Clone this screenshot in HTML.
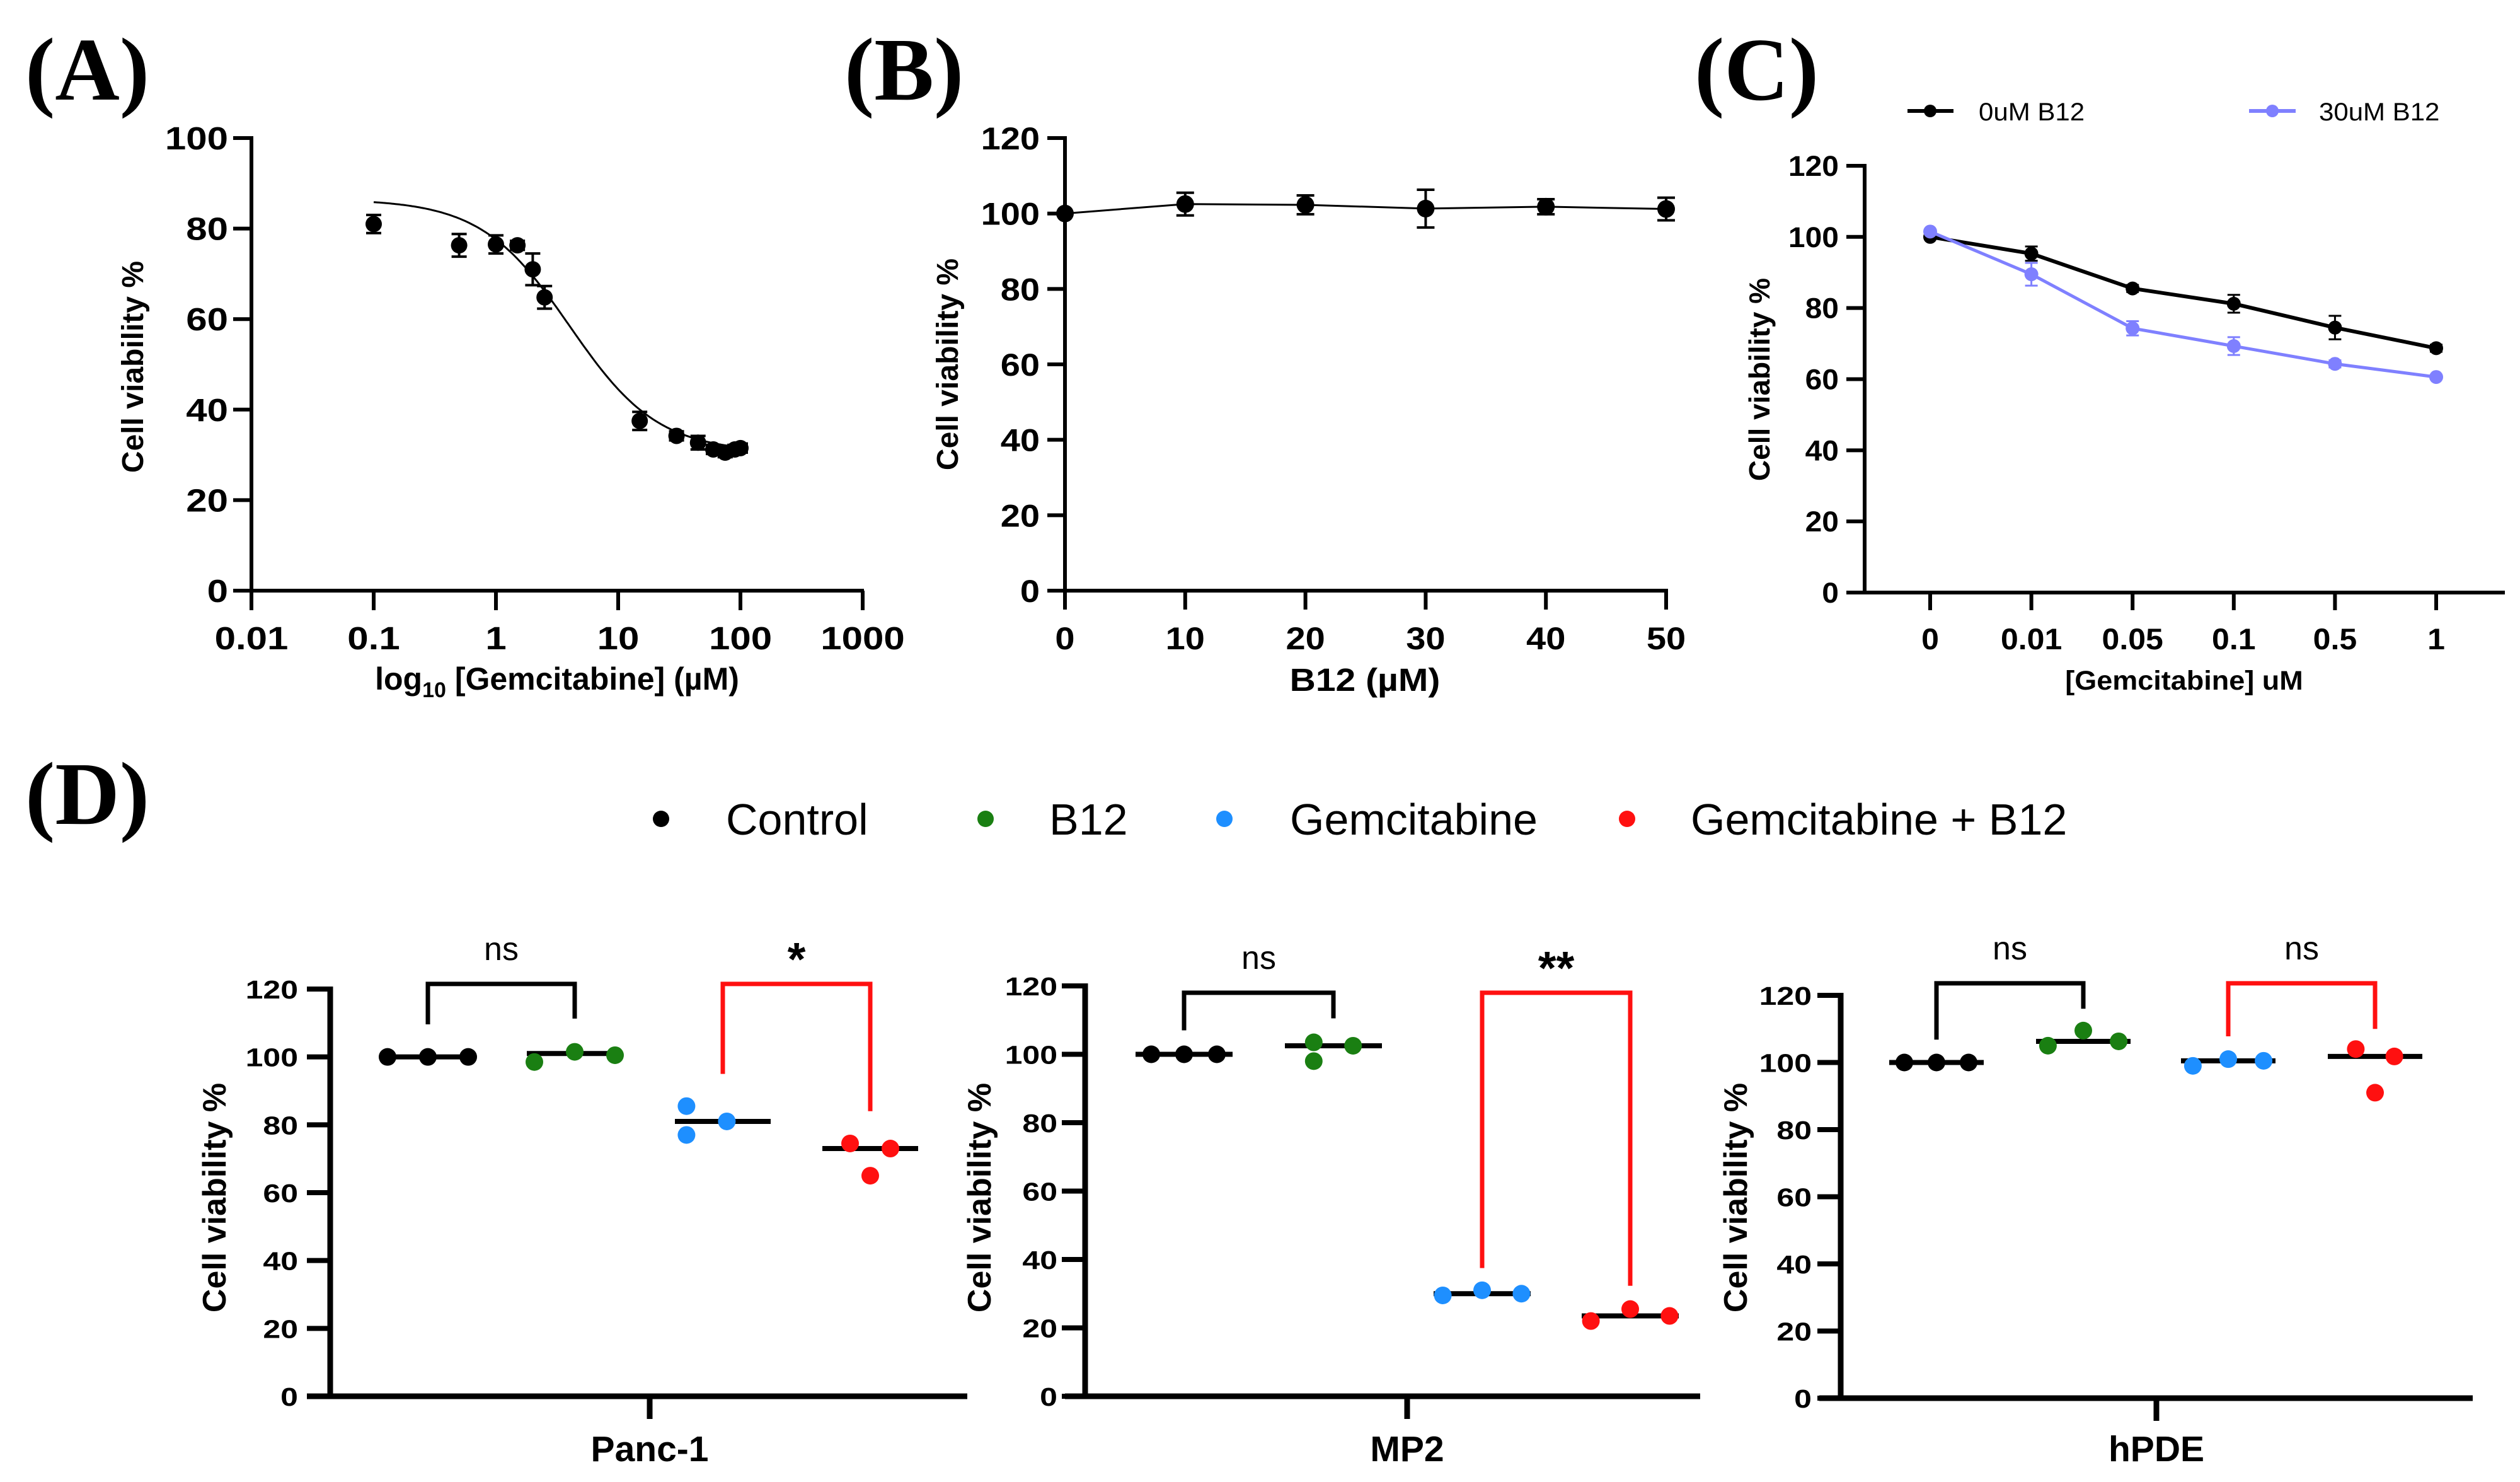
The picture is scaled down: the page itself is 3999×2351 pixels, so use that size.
<!DOCTYPE html>
<html><head><meta charset="utf-8"><style>
html,body{margin:0;padding:0;background:#fff;}
svg{display:block;font-family:"Liberation Sans",Arial,sans-serif;}
</style></head><body>
<svg id="fig" width="3999" height="2351" viewBox="0 0 3999 2351" xmlns="http://www.w3.org/2000/svg">
<rect width="3999" height="2351" fill="#fff"/>
</svg>
<script>
// ---------- DATA ----------
const aConc = [0.1, 0.5, 1, 1.5, 2, 2.5, 15, 30, 45, 60, 75, 90, 100];
const aVal  = [81, 76.3, 76.5, 76.3, 71, 64.8, 37.5, 34.2, 32.7, 31.2, 30.5, 31.2, 31.5];
const aErr  = [2, 2.5, 2, 1, 3.5, 2.5, 2, 1, 1.5, 1, 1, 1, 1];
const aFitTop = 86.5, aFitBottom = 30.5, aFitIC50 = 4, aFitHill = 1.2;
const aTicks = [0.01, 0.1, 1, 10, 100, 1000];
const aTickLabels = ["0.01", "0.1", "1", "10", "100", "1000"];
const aYTicks = [0, 20, 40, 60, 80, 100];

const bConc = [0, 10, 20, 30, 40, 50];
const bVal  = [100, 102.5, 102.3, 101.3, 101.8, 101.2];
const bErr  = [0, 3, 2.5, 5, 2, 3];
const bYTicks = [0, 20, 40, 60, 80, 100, 120];

const cCats = ["0", "0.01", "0.05", "0.1", "0.5", "1"];
const cBlack = [100, 95.3, 85.5, 81.2, 74.5, 68.7];
const cBlackErr = [0.5, 2, 1, 2.5, 3.3, 1];
const cBlue = [101.5, 89.5, 74.3, 69.3, 64.3, 60.6];
const cBlueErr = [0.5, 3.2, 2, 2.5, 1, 0.5];
const cYTicks = [0, 20, 40, 60, 80, 100, 120];

const dGroups = ["Control", "B12", "Gemcitabine", "Gemcitabine + B12"];
const dColors = ["#000000", "#1a7f12", "#1e8fff", "#ff1010"];
const dCells = ["Panc-1", "MP2", "hPDE"];
const dPanc = [[100, 100, 100], [98.5, 101.5, 100.5], [85.5, 77, 81], [74.5, 65, 73]];
const dMP2  = [[100, 100, 100], [103.5, 98, 102.5], [29.5, 31, 30], [22, 25.5, 23.5]];
const dHPDE = [[100, 100, 100], [105, 109.5, 106.3], [99, 101, 100.5], [104, 91, 101.8]];
const dMedPanc = [100, 101, 81, 73];
const dMedMP2  = [100, 102.5, 30, 23.5];
const dMedHPDE = [100, 106.3, 100.5, 101.8];
const dSig = [["ns", "*"], ["ns", "**"], ["ns", "ns"]];
const dBrTop = [[121.5, 121.5], [118, 118], [123.6, 123.6]];
const dBrLegs = [[[109.6, 111.3], [95, 84]], [[107, 110.5], [37.5, 32.3]], [[106.8, 116], [107.8, 110]]];
const dYTicks = [0, 20, 40, 60, 80, 100, 120];

// ---------- HELPERS ----------
const NS = "http://www.w3.org/2000/svg";
const svg = document.getElementById("fig");
function mk(tag, attrs, parent) {
  const e = document.createElementNS(NS, tag);
  for (const k in attrs) e.setAttribute(k, attrs[k]);
  (parent || svg).appendChild(e);
  return e;
}
function txt(x, y, s, fs, anchor, weight, sy, parent, fam) {
  const e = mk("text", {transform: "translate(" + x + "," + y + ") scale(1," + sy + ")", "font-size": fs, "text-anchor": anchor, "font-weight": weight, fill: "#000"}, parent);
  if (fam) e.setAttribute("font-family", fam);
  e.textContent = s;
  return e;
}
const SERIF = '"Liberation Serif","Times New Roman",serif';

// ---------- PANEL LETTERS ----------
const letters = [["(A)", 40, 158], ["(B)", 1340, 158], ["(C)", 2689, 158], ["(D)", 40, 1307]];
letters.forEach(function (L) {
  const t = txt(L[1], L[2], L[0], 142, "start", "bold", 1, svg, SERIF);
  
  
});

// ---------- PANEL A ----------
const gA = mk("g", {});


function xA(v) { return 399 + (Math.log10(v) + 2) * 194; }
function yA(v) { return 937 - v * 7.18; }
let e;
e = mk("line", {x1: 399, y1: yA(100) - 3, x2: 399, y2: 940, stroke: "#000", "stroke-width": 6}, gA);


e = mk("line", {x1: 370, y1: 937, x2: 1371, y2: 937, stroke: "#000", "stroke-width": 6}, gA);


aYTicks.forEach(function (v) {
  const t = mk("line", {x1: 370, y1: yA(v), x2: 399, y2: yA(v), stroke: "#000", "stroke-width": 6}, gA);
  
  
  const l = txt(362, yA(v) + 18, String(v), 60, "end", "bold", 0.85, gA);
  
  
});
aTicks.forEach(function (v, i) {
  const t = mk("line", {x1: xA(v), y1: 937, x2: xA(v), y2: 968, stroke: "#000", "stroke-width": 6}, gA);
  
  
  const l = txt(xA(v), 1030, aTickLabels[i], 60, "middle", "bold", 0.85, gA);
  
  
});
(function () {
  let d = "";
  for (let k = 0; k <= 200; k++) {
    const lx = -1 + k * 3 / 200;
    const c = Math.pow(10, lx);
    const v = aFitBottom + (aFitTop - aFitBottom) / (1 + Math.pow(c / aFitIC50, aFitHill));
    d += (k ? "L" : "M") + xA(c).toFixed(1) + "," + yA(v).toFixed(1);
  }
  const p = mk("path", {d: d, fill: "none", stroke: "#000", "stroke-width": 3}, gA);
  
  
})();
aConc.forEach(function (c, i) {
  const x = xA(c), y1 = yA(aVal[i] + aErr[i]), y2 = yA(aVal[i] - aErr[i]);
  const eb = mk("path", {d: "M" + x + "," + y1 + "V" + y2 + "M" + (x - 12) + "," + y1 + "h24M" + (x - 12) + "," + y2 + "h24", stroke: "#000", "stroke-width": 4, fill: "none"}, gA);
  
  
  const pt = mk("circle", {cx: x, cy: yA(aVal[i]), r: 13, fill: "#000"}, gA);
  
  
});
e = txt(210, 582, "Cell viability %", 48, "middle", "bold", 1, gA);
e.setAttribute("transform", "translate(227,582) rotate(-90)");


e = mk("text", {x: 884, y: 1094, "font-size": 50, "text-anchor": "middle", "font-weight": "bold"}, gA);
e.innerHTML = 'log<tspan font-size="34" dy="12">10</tspan><tspan dy="-12"> [Gemcitabine] (µM)</tspan>';



// ---------- PANEL B ----------
const gB = mk("g", {});


function xB(v) { return 1690 + v * 19.08; }
function yB(v) { return 937 - v * 5.983; }
e = mk("line", {x1: 1690, y1: yB(120) - 3, x2: 1690, y2: 940, stroke: "#000", "stroke-width": 6}, gB);


e = mk("line", {x1: 1662, y1: 937, x2: xB(50) + 3, y2: 937, stroke: "#000", "stroke-width": 6}, gB);


bYTicks.forEach(function (v) {
  const t = mk("line", {x1: 1662, y1: yB(v), x2: 1690, y2: yB(v), stroke: "#000", "stroke-width": 6}, gB);
  
  
  const l = txt(1650, yB(v) + 18, String(v), 56, "end", "bold", 0.9, gB);
  
  
});
bConc.forEach(function (v) {
  const t = mk("line", {x1: xB(v), y1: 937, x2: xB(v), y2: 967, stroke: "#000", "stroke-width": 6}, gB);
  
  
  const l = txt(xB(v), 1030, String(v), 56, "middle", "bold", 0.9, gB);
  
  
});
e = mk("polyline", {points: bConc.map(function (c, i) { return xB(c) + "," + yB(bVal[i]); }).join(" "), fill: "none", stroke: "#000", "stroke-width": 3}, gB);


bConc.forEach(function (c, i) {
  const x = xB(c), y1 = yB(bVal[i] + bErr[i]), y2 = yB(bVal[i] - bErr[i]);
  if (bErr[i] > 0) {
    const eb = mk("path", {d: "M" + x + "," + y1 + "V" + y2 + "M" + (x - 14) + "," + y1 + "h28M" + (x - 14) + "," + y2 + "h28", stroke: "#000", "stroke-width": 4, fill: "none"}, gB);
    
    
  }
  const pt = mk("circle", {cx: x, cy: yB(bVal[i]), r: 14, fill: "#000"}, gB);
  
  
});
e = txt(0, 0, "Cell viability %", 48, "middle", "bold", 1, gB);
e.setAttribute("transform", "translate(1520,578) rotate(-90)");


e = txt(2166, 1096, "B12 (µM)", 57, "middle", "bold", 0.9, gB);



// ---------- PANEL C ----------
const gC = mk("g", {});


function xC(i) { return 3063 + i * 160.6; }
function yC(v) { return 940 - v * 5.642; }
const blueC = "#7f80ff";
e = mk("line", {x1: 2959, y1: yC(120) - 3, x2: 2959, y2: 943, stroke: "#000", "stroke-width": 6}, gC);


e = mk("line", {x1: 2930, y1: 940, x2: 3975, y2: 940, stroke: "#000", "stroke-width": 6}, gC);


cYTicks.forEach(function (v) {
  const t = mk("line", {x1: 2930, y1: yC(v), x2: 2959, y2: yC(v), stroke: "#000", "stroke-width": 6}, gC);
  
  
  const l = txt(2918, yC(v) + 16, String(v), 48, "end", "bold", 0.95, gC);
  
  
});
cCats.forEach(function (c, i) {
  const t = mk("line", {x1: xC(i), y1: 940, x2: xC(i), y2: 968, stroke: "#000", "stroke-width": 6}, gC);
  
  
  const l = txt(xC(i), 1030, c, 50, "middle", "bold", 0.95, gC);
  
  
});
[[cBlack, cBlackErr, "#000", 6, "series-0um-b12"], [cBlue, cBlueErr, blueC, 5, "series-30um-b12"]].forEach(function (S) {
  const g = mk("g", {}, gC);
  
  
  const ln = mk("polyline", {points: S[0].map(function (v, i) { return xC(i) + "," + yC(v); }).join(" "), fill: "none", stroke: S[2], "stroke-width": S[3]}, g);
  
  
  S[0].forEach(function (v, i) {
    const x = xC(i), y1 = yC(v + S[1][i]), y2 = yC(v - S[1][i]);
    const eb = mk("path", {d: "M" + x + "," + y1 + "V" + y2 + "M" + (x - 10) + "," + y1 + "h20M" + (x - 10) + "," + y2 + "h20", stroke: S[2], "stroke-width": 3, fill: "none"}, g);
    
    
    const pt = mk("circle", {cx: x, cy: yC(v), r: 11, fill: S[2]}, g);
    
    
  });
});
// legend C
e = mk("line", {x1: 3027, y1: 176, x2: 3100, y2: 176, stroke: "#000", "stroke-width": 6}, gC);


e = mk("circle", {cx: 3063, cy: 176, r: 10, fill: "#000"}, gC);


e = txt(3140, 191, "0uM B12", 42, "start", "normal", 0.95, gC);


e = mk("line", {x1: 3569, y1: 176, x2: 3643, y2: 176, stroke: blueC, "stroke-width": 6}, gC);


e = mk("circle", {cx: 3606, cy: 176, r: 10, fill: blueC}, gC);


e = txt(3680, 191, "30uM B12", 42, "start", "normal", 0.95, gC);


e = txt(0, 0, "Cell viability %", 46, "middle", "bold", 1, gC);
e.setAttribute("transform", "translate(2808,602) rotate(-90)");


e = txt(3466, 1094, "[Gemcitabine] uM", 45, "middle", "bold", 0.95, gC);



// ---------- PANEL D LEGEND ----------
const dLegDot = [1049, 1564, 1943, 2582];
const dLegTxt = [1152, 1665, 2047, 2683];
dGroups.forEach(function (g, i) {
  const c = mk("circle", {cx: dLegDot[i], cy: 1299, r: 13, fill: dColors[i]});
  
  
  const t = txt(dLegTxt[i], 1324, g, 70, "start", "normal", 1);
  
  
});

// ---------- PANEL D SUBPLOTS ----------
const dLayout = [
  {ax: 524, y0: 2215, y120: 1569, cx: [679, 912, 1147, 1381], sp: 64, hw: 76, xs: 487, xe: 1535, cat: 1031, lab: 473, yt: 339},
  {ax: 1722, y0: 2215, y120: 1564, cx: [1879, 2116, 2352, 2587], sp: 52, hw: 77, xs: 1690, xe: 2698, cat: 2233, lab: 1678, yt: 1553},
  {ax: 2921, y0: 2218, y120: 1579, cx: [3073, 3306, 3536, 3769], sp: 51, hw: 75, xs: 2887, xe: 3924, cat: 3422, lab: 2875, yt: 2753}
];
const dSlots = [
  [[-1, 0, 1], [-1, 0, 1], [-0.9, -0.9, 0.1], [-0.5, 0, 0.5]],
  [[-1, 0, 1], [-0.6, -0.6, 0.6], [-1.2, 0, 1.2], [-1.2, 0, 1.2]],
  [[-1, 0, 1], [-1.1, 0, 1.1], [-1.1, 0, 1.1], [-0.6, 0, 0.6]]
];
const dVals = [dPanc, dMP2, dHPDE];
const dMeds = [dMedPanc, dMedMP2, dMedHPDE];
dLayout.forEach(function (L, p) {
  const g = mk("g", {});
  
  
  const k = (L.y0 - L.y120) / 120;
  function y(v) { return L.y0 - v * k; }
  let a = mk("line", {x1: L.ax, y1: L.y120 - 4, x2: L.ax, y2: L.y0 + 4, stroke: "#000", "stroke-width": 9}, g);
  
  
  a = mk("line", {x1: L.xs, y1: L.y0, x2: L.xe, y2: L.y0, stroke: "#000", "stroke-width": 9}, g);
  
  
  a = mk("line", {x1: L.cat, y1: L.y0, x2: L.cat, y2: L.y0 + 36, stroke: "#000", "stroke-width": 9}, g);
  
  
  a = txt(L.cat, 2318, dCells[p], 57, "middle", "bold", 1, g);
  
  
  dYTicks.forEach(function (v) {
    const t = mk("line", {x1: L.ax - 37, y1: y(v), x2: L.ax, y2: y(v), stroke: "#000", "stroke-width": 8}, g);
    
    
    const l = txt(L.lab, y(v) + 15, String(v), 50, "end", "bold", 0.82, g);
    
    
  });
  a = txt(0, 0, "Cell viability %", 52, "middle", "bold", 1, g);
  a.setAttribute("transform", "translate(" + (L.yt + 19) + ",1900) rotate(-90)");
  
  
  dGroups.forEach(function (gn, gi) {
    const m = mk("line", {x1: L.cx[gi] - L.hw, y1: y(dMeds[p][gi]), x2: L.cx[gi] + L.hw, y2: y(dMeds[p][gi]), stroke: "#000", "stroke-width": 8}, g);
    
    
    dVals[p][gi].forEach(function (v, j) {
      const c = mk("circle", {cx: L.cx[gi] + dSlots[p][gi][j] * L.sp, cy: y(v), r: 14, fill: dColors[gi]}, g);
      
      
    });
  });
  [0, 1].forEach(function (b) {
    const xl = L.cx[b * 2], xr = L.cx[b * 2 + 1];
    const col = b === 0 ? "#000" : "#ff1010";
    const top = y(dBrTop[p][b]);
    const br = mk("path", {d: "M" + xl + "," + y(dBrLegs[p][b][0]) + "V" + top + "H" + xr + "V" + y(dBrLegs[p][b][1]), fill: "none", stroke: col, "stroke-width": 7}, g);
    
    
    const s = dSig[p][b];
    const star = s !== "ns";
    const t = txt((xl + xr) / 2, top - (star ? 14 : 38), s, star ? 74 : 52, "middle", star ? "bold" : "normal", 1, g);
    
    
  });
});
</script>
</body></html>
